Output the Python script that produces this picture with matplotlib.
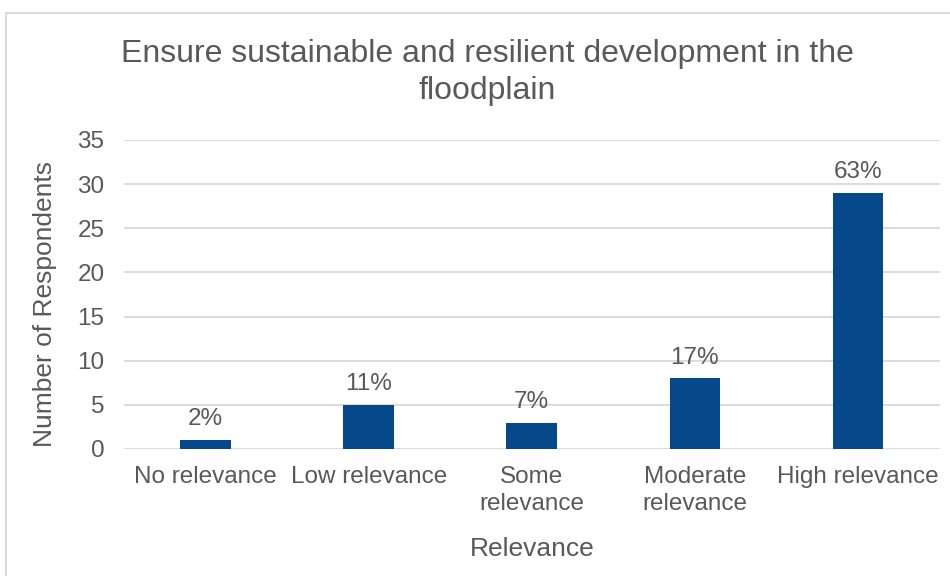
import matplotlib.pyplot as plt
from matplotlib.patches import Rectangle

plt.rcParams['font.family'] = ['Liberation Sans', 'DejaVu Sans']

# data
categories = ['No relevance', 'Low relevance', 'Some\nrelevance', 'Moderate\nrelevance', 'High relevance']
counts = [1, 5, 3, 8, 29]
pct_labels = ['2%', '11%', '7%', '17%', '63%']

text_col = '#595959'
bar_col = '#06498A'
grid_col = '#D9D9D9'

fig = plt.figure(figsize=(9.5, 5.76), dpi=100)
ax = fig.add_axes([0.1305, 0.2205, 0.8585, 0.5365])

x = range(len(categories))
bars = ax.bar(x, counts, width=0.31, color=bar_col, zorder=3)

for b, lab in zip(bars, pct_labels):
    ax.annotate(lab, (b.get_x() + b.get_width() / 2, b.get_height()),
                xytext=(0, 7), textcoords='offset points',
                ha='center', va='bottom', fontsize=17.5, color=text_col)

ax.set_xlim(-0.5, len(categories) - 0.5)
ax.set_ylim(0, 35)
ax.set_yticks(range(0, 36, 5))
ax.set_xticks(list(x))
ax.set_xticklabels(categories, linespacing=1.3)
ax.tick_params(axis='both', length=0, labelsize=17.5, labelcolor=text_col)
ax.tick_params(axis='x', pad=12)
ax.tick_params(axis='y', pad=14)
ax.grid(axis='y', color=grid_col, linewidth=1.3, zorder=0)
for s in ax.spines.values():
    s.set_visible(False)

ax.set_xlabel('Relevance', fontsize=19, color=text_col, labelpad=16)
ax.set_ylabel('Number of Respondents', fontsize=19, color=text_col)
ax.yaxis.set_label_coords(-0.082, 0.468)

fig.text(0.513, 0.874, 'Ensure sustainable and resilient development in the\nfloodplain',
         ha='center', va='center', fontsize=23, color=text_col, linespacing=1.3)

fig.patches.append(Rectangle((6 / 950, -0.01), 1.0, 1 - 13 / 576 + 0.01,
                             transform=fig.transFigure, fill=False,
                             edgecolor=grid_col, linewidth=1.3))

plt.savefig('out.png', dpi=100)
